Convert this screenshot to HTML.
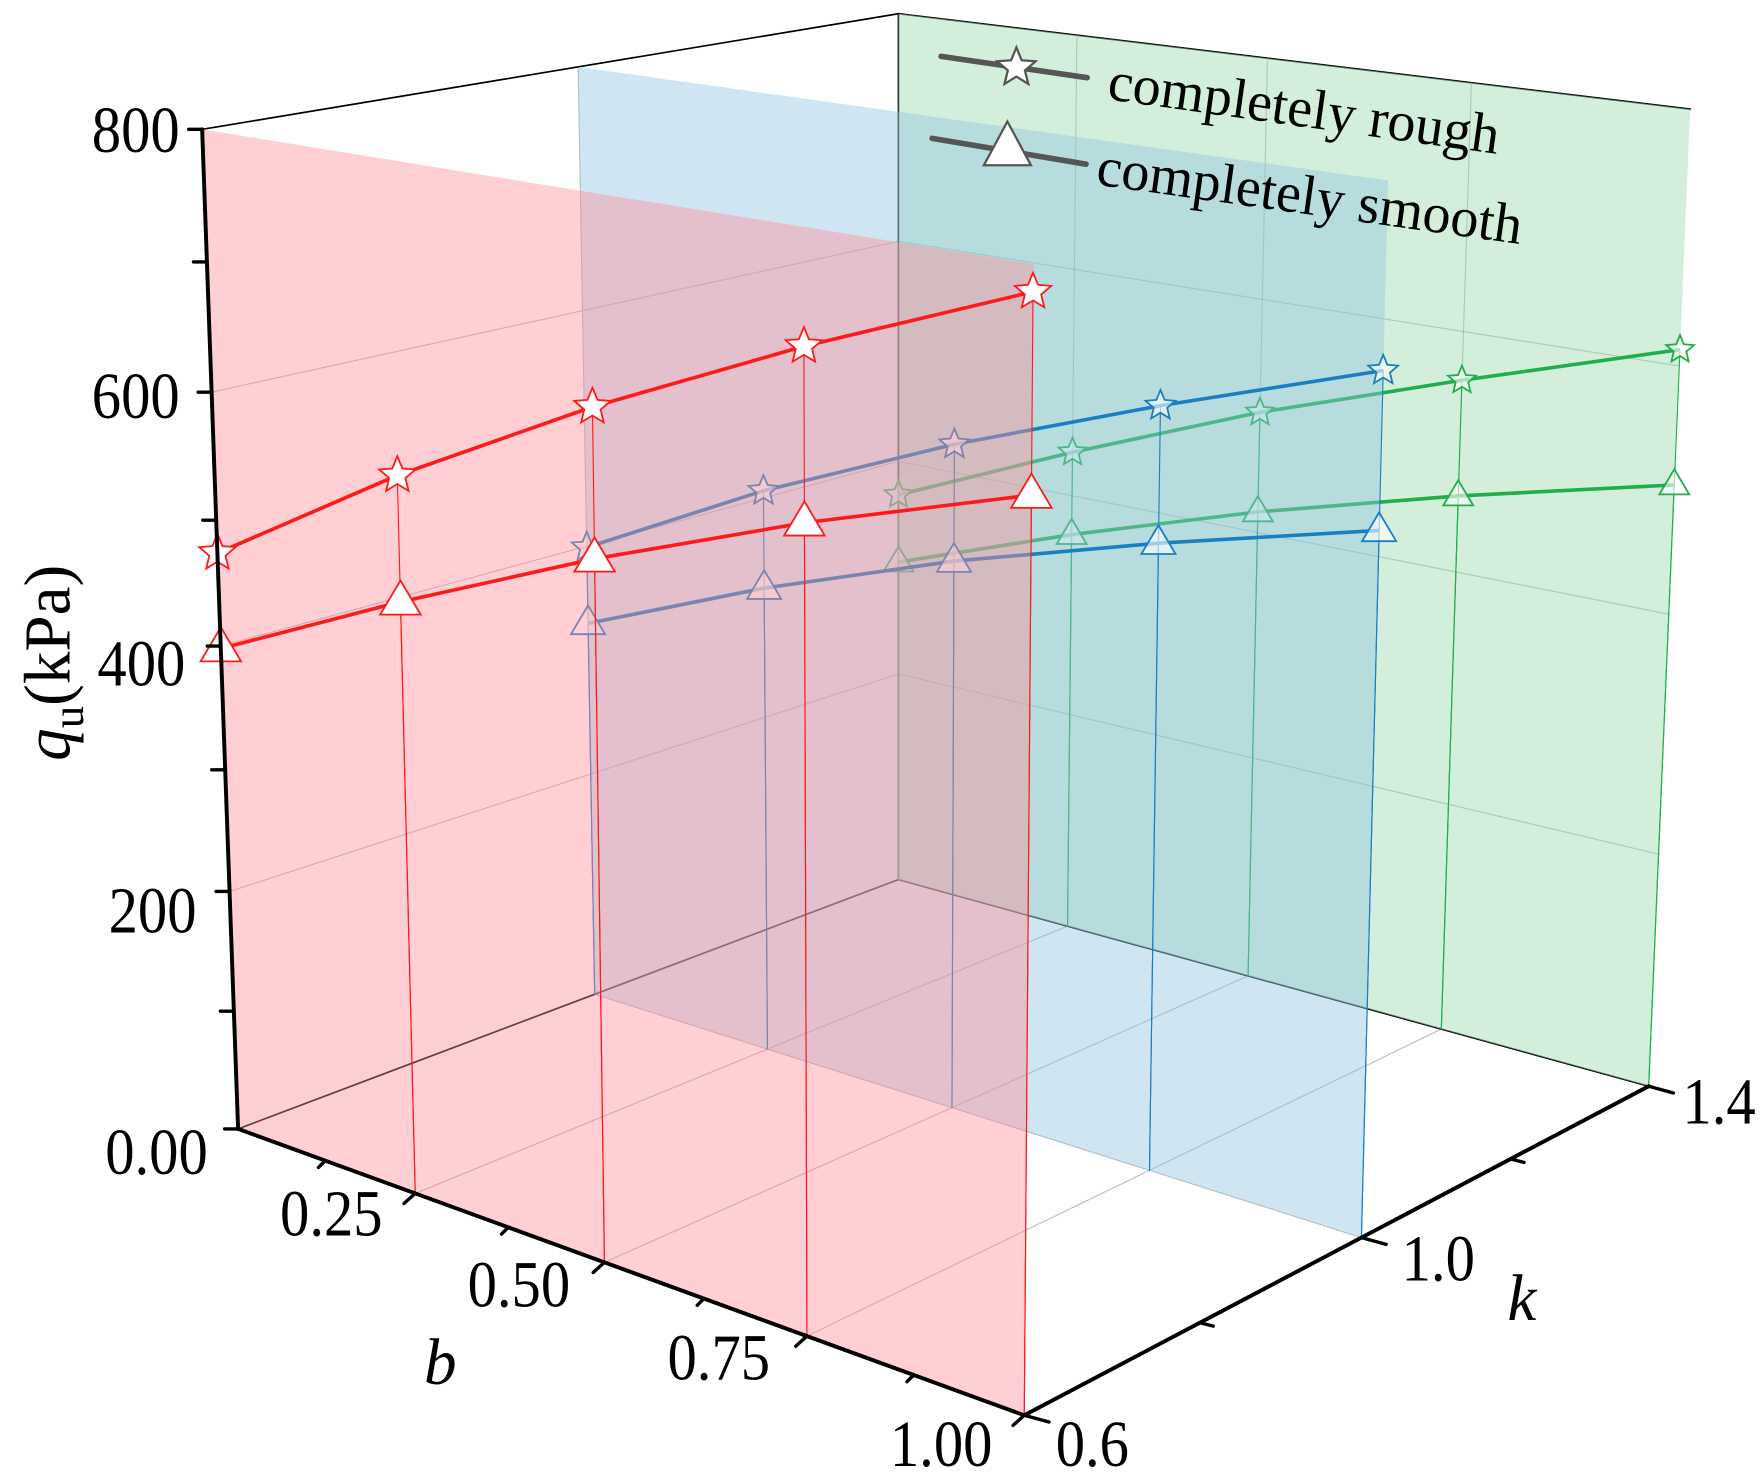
<!DOCTYPE html>
<html><head><meta charset="utf-8"><style>
html,body{margin:0;padding:0;background:#fff;}
svg{display:block;}
text{font-family:"Liberation Serif",serif;}
</style></head><body>
<svg id="chart" width="1761" height="1484" viewBox="0 0 1568 1321" xmlns="http://www.w3.org/2000/svg">
<g id="back"></g>
<g id="main"></g>
</svg>
<script>
const bVals = [0, 0.25, 0.5, 0.75, 1.0];
const kVals = [0.6, 1.0, 1.4];
const roughK06 = [474, 567, 648, 719, 782];
const smoothK06 = [398, 471, 538, 597, 648];
const roughK10 = [399, 480, 549, 609, 664];
const smoothK10 = [333, 399, 456, 504, 547];
const roughK14 = [369, 439, 504, 560, 613];
const smoothK14 = [306, 365, 418, 464, 505];
const qTicks = [0, 200, 400, 600, 800];
const qTickLabels = ["0.00", "200", "400", "600", "800"];
const bTicks = [0.25, 0.5, 0.75, 1.0];
const bTickLabels = ["0.25", "0.50", "0.75", "1.00"];
const kTickLabels = ["0.6", "1.0", "1.4"];

const NS = "http://www.w3.org/2000/svg";
const back = document.getElementById('back');
const main = document.getElementById('main');
const Abase=[212,1005], Atop=[180,115], Bbase=[912,1260], Btop=[920,235];
const Cbase=[1468,967], Ctop=[1505,97], Dbase=[800,783], Dtop=[800,12];
function warp(t,r){return t/(t+(1-t)*r);}
function bil(P00,P10,P11,P01,u,v){
  return [(1-u)*(1-v)*P00[0]+u*(1-v)*P10[0]+u*v*P11[0]+(1-u)*v*P01[0],
          (1-u)*(1-v)*P00[1]+u*(1-v)*P10[1]+u*v*P11[1]+(1-u)*v*P01[1]];
}
function P(b,k,q){
  const u=warp(b,1.146), v=warp((k-0.6)/0.8,0.852), w=warp(q/800,1.07);
  const bs=bil(Abase,Bbase,Cbase,Dbase,u,v), tp=bil(Atop,Btop,Ctop,Dtop,u,v);
  return [bs[0]+w*(tp[0]-bs[0]), bs[1]+w*(tp[1]-bs[1])];
}
function mk(parent,tag,attrs,name){
  const el=document.createElementNS(NS,tag);
  for(const a in attrs) el.setAttribute(a,attrs[a]);
  
  
  parent.appendChild(el); return el;
}
function line(parent,p1,p2,stroke,sw,name){
  return mk(parent,'line',{x1:p1[0],y1:p1[1],x2:p2[0],y2:p2[1],stroke:stroke,'stroke-width':sw,'stroke-linecap':'round'},name);
}
function poly(pts){return pts.map(p=>p[0].toFixed(1)+','+p[1].toFixed(1)).join(' ');}
const grid='#bdbdbd';
[200,400,600].forEach(q=>line(back,P(0,0.6,q),P(0,1.4,q),grid,1,'left-wall-gridline'));
line(back,P(0,1.0,0),P(0,1.0,800),grid,1,'left-wall-gridline');
[0.25,0.5,0.75].forEach(b=>line(back,P(b,0.6,0),P(b,1.4,0),grid,1,'floor-gridline'));
line(back,P(0,1.0,0),P(1,1.0,0),grid,1,'floor-gridline');
line(back,Atop,Dtop,'#000',1.5,'box-top-edge');
line(back,Dtop,Ctop,'#000',1.5,'box-top-edge');
line(back,Dtop,Dbase,'#000',1.5,'box-back-edge');
line(back,Abase,Dbase,'#000',1.5,'floor-edge');
line(back,Dbase,Cbase,'#000',1.5,'floor-edge');

function plane(k,fill,name){
  mk(main,'polygon',{points:poly([P(0,k,0),P(1,k,0),P(1,k,800),P(0,k,800)]),fill:fill,stroke:'none'},name);
}
function star(cx,cy,r,col,fill,name){
  const pts=[];
  for(let i=0;i<10;i++){const a=-Math.PI/2+i*Math.PI/5;const rr=i%2?r*0.45:r;pts.push([cx+rr*Math.cos(a),cy+rr*Math.sin(a)]);}
  mk(main,'polygon',{points:poly(pts),fill:fill,stroke:col,'stroke-width':1.6},name);
}
function tri(cx,cy,r,col,fill,name){
  const pts=[[cx,cy-r],[cx+r*0.95,cy+r*0.6],[cx-r*0.95,cy+r*0.6]];
  mk(main,'polygon',{points:poly(pts),fill:fill,stroke:col,'stroke-width':1.6},name);
}
function series(k,vals,col,marker,size,fill,name){
  const pts=bVals.map((b,i)=>P(b,k,vals[i]));
  pts.forEach((p,i)=>line(main,p,P(bVals[i],k,0),col,1,name+'-dropline'));
  mk(main,'polyline',{points:poly(pts),fill:'none',stroke:col,'stroke-width':3.2},name+'-line');
  pts.forEach(p=>marker(p[0],p[1],size,col,fill,name+'-marker'));
}
plane(1.4,'rgba(170,222,185,0.5)','plane-k14');
[0.25,0.5,0.75].forEach(b=>line(main,P(b,1.4,0),P(b,1.4,800),'rgba(120,160,140,0.45)',1,'green-wall-gridline'));
[200,400,600].forEach(q=>line(main,P(0,1.4,q),P(1,1.4,q),'rgba(120,160,140,0.45)',1,'green-wall-gridline'));
series(1.4,roughK14,'#1fae4a',star,13,'rgba(255,255,255,0.6)','green-rough');
series(1.4,smoothK14,'#1fae4a',tri,14,'rgba(255,255,255,0.6)','green-smooth');
plane(1.0,'rgba(140,195,225,0.42)','plane-k10');
series(1.0,roughK10,'#1a7fc0',star,14,'rgba(255,255,255,0.6)','blue-rough');
series(1.0,smoothK10,'#1a7fc0',tri,16,'rgba(255,255,255,0.6)','blue-smooth');
plane(0.6,'rgba(255,140,150,0.42)','plane-k06');
series(0.6,roughK06,'#ff1a1a',star,17,'#fff','red-rough');
series(0.6,smoothK06,'#ff1a1a',tri,19,'#fff','red-smooth');

line(main,Atop,Abase,'#000',3.5,'z-axis');
line(main,Abase,Bbase,'#000',3.5,'b-axis');
line(main,Bbase,Cbase,'#000',3.5,'k-axis');
function txt(x,y,s,size,anchor,name,extra){
  const t=mk(main,'text',Object.assign({x:x,y:y,'font-size':size,'text-anchor':anchor,fill:'#000'},extra||{}),name);
  t.textContent=s; return t;
}
for(let q=0;q<=800;q+=100){const p=P(0,0.6,q);line(main,p,[p[0]-12,p[1]],'#000',3,'z-tick');}
const qLabelX=[185,175,165,160,160], qLabelY=[1045,830,610,372,135];
qTicks.forEach((q,i)=>{
  txt(0,0,qTickLabels[i],58,'end','z-tick-label',{transform:`translate(${qLabelX[i]},${qLabelY[i]}) scale(0.9,1)`});});
for(let b=0.125;b<=1.001;b+=0.125){const p=P(b,0.6,0);const big=Math.abs(b*4-Math.round(b*4))<0.01;
  line(main,p,[p[0]-(big?10:6),p[1]+(big?9:6)],'#000',3,'b-tick');}
const bLabelX=[295,462,640,838], bLabelY=[1100,1163,1228,1305];
bTicks.forEach((b,i)=>{
  txt(0,0,bTickLabels[i],58,'middle','b-tick-label',{transform:`translate(${bLabelX[i]},${bLabelY[i]}) scale(0.9,1)`});});
const kLabelX=[940,1248,1498], kLabelY=[1305,1140,1000];
kVals.forEach((k,i)=>{const p=P(1,k,0);line(main,p,[p[0]+22,p[1]+6],'#000',3,'k-tick');
  txt(0,0,kTickLabels[i],58,'start','k-tick-label',{transform:`translate(${kLabelX[i]},${kLabelY[i]}) scale(0.9,1)`});});
[0.8,1.2].forEach(k=>{const p=P(1,k,0);line(main,p,[p[0]+12,p[1]+3],'#000',3,'k-minor-tick');});
const zt=mk(main,'text',{transform:'translate(62,590) rotate(-90)','font-size':58,'text-anchor':'middle',fill:'#000'},'z-axis-title');
zt.innerHTML='<tspan font-style="italic">q</tspan><tspan font-size="40" dy="12">u</tspan><tspan dy="-12">(kPa)</tspan>';
txt(392,1232,'b',58,'middle','b-axis-title',{'font-style':'italic'});
txt(1355,1175,'k',58,'middle','k-axis-title',{'font-style':'italic'});
const lg=mk(main,'g',{},'legend');
line(lg,[838,50],[968,69],'#555',5,'legend-line-rough');
mk(lg,'polygon',{points:poly((()=>{const a=[];for(let i=0;i<10;i++){const t=-Math.PI/2+i*Math.PI/5;const r=i%2?8:18;a.push([905+r*Math.cos(t),60+r*Math.sin(t)]);}return a;})()),fill:'#fff',stroke:'#555','stroke-width':2},'legend-marker-rough');
txt(0,0,'completely rough',50,'start','legend-label-rough',{transform:'translate(985,88) rotate(8)'});
line(lg,[830,123],[967,146],'#555',5,'legend-line-smooth');
mk(lg,'polygon',{points:'897,108 918,147 876,147',fill:'#fff',stroke:'#555','stroke-width':2},'legend-marker-smooth');
txt(0,0,'completely smooth',50,'start','legend-label-smooth',{transform:'translate(975,164) rotate(8)'});
</script>
</body></html>
